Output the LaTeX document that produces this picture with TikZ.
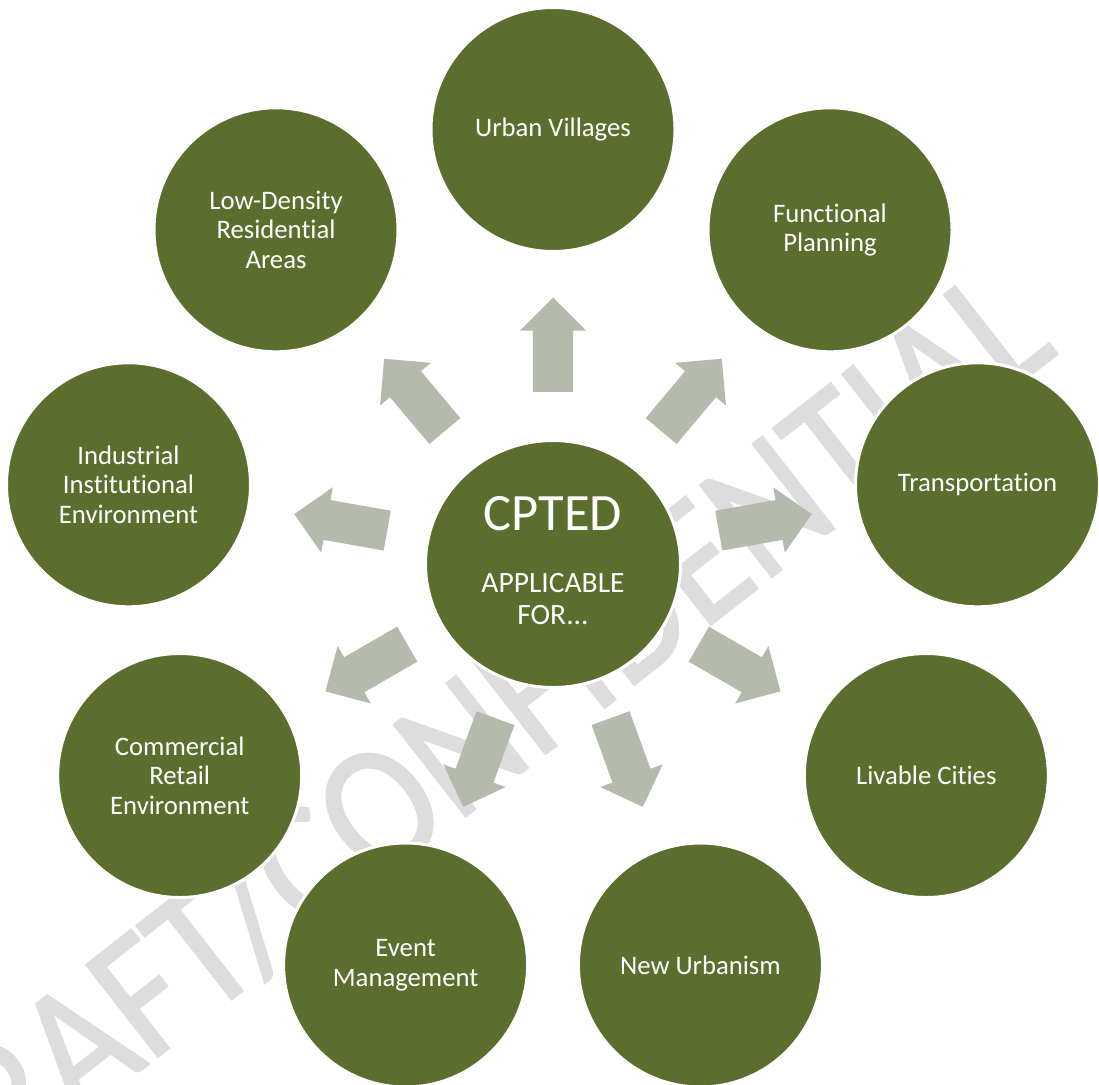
\documentclass[tikz,border=0pt]{standalone}
\usepackage{fontspec}
\setmainfont{Carlito}[Ligatures=NoCommon]
\newfontfamily\wmfont{Carlito}[Ligatures=NoCommon, FakeBold=1.2]
\usetikzlibrary{shapes.geometric,shapes.arrows}
\definecolor{olivec}{RGB}{91,110,46}
\definecolor{arrowc}{RGB}{181,187,172}
\definecolor{wmc}{RGB}{221,221,221}
\begin{document}
\begin{tikzpicture}[x=1pt,y=-1pt,
  topic/.style={circle, fill=olivec, draw=white, line width=3pt,
    minimum size=244pt, inner sep=0pt, text=white, align=center,
    font=\fontsize{26.7}{29.5}\selectfont},
  hub/.style={ellipse, fill=olivec, draw=white, line width=3pt,
    minimum width=255pt, minimum height=247pt, inner sep=0pt},
  hubtext/.style={text=white, inner sep=0pt, align=center},
  blockarrow/.style={single arrow, fill=arrowc, draw=none,
    minimum height=94.4pt, inner xsep=0pt, inner ysep=20pt,
    single arrow head extend=13pt, single arrow tip angle=90,
    outer sep=0pt, anchor=tail, sloped, allow upside down},
  watermark/.style={text=wmc, inner sep=0pt, anchor=base east,
    font=\wmfont\fontsize{158}{158}\selectfont}
  ]
\useasboundingbox (0,0) rectangle (1099,1084);
\fill[white] (0,0) rectangle (1099,1084);

% watermark
\begin{scope}
\clip (0,0) rectangle (1099,1084);
\node[watermark, rotate=38, yscale=1.15] (wm) at (1060,352) {DRAFT/CONFIDENTIAL};
\end{scope}

% layout centre
\coordinate (o) at (553,560);

% outer topics
\node[topic] (uv) at (553,129.5) {Urban Villages};
\node[topic] (fp) at (830,229.8) {Functional\\Planning};
\node[topic] (tr) at (977.5,484.8) {Transportation};
\node[topic] (lc) at (926.3,775.5) {Livable Cities};
\node[topic] (nu) at (700.4,965) {New Urbanism};
\node[topic] (em) at (405.6,965) {Event\\Management};
\node[topic] (cr) at (179.7,775.5) {Commercial\\Retail\\Environment};
\node[topic] (ii) at (128.5,484.8) {Industrial\\Institutional\\Environment};
\node[topic] (ld) at (276,229.8) {Low-Density\\Residential\\Areas};

% block arrows from the hub to each topic
\foreach \t in {uv,fp,tr,lc,nu,em,cr,ii,ld}{
  \path (o) -- (\t.center) node[blockarrow, pos=0.3905] (a-\t) {};
}

% hub
\node[hub] (c) at (553,564) {};
\node[hubtext, anchor=base, font=\fontsize{52.5}{52.5}\selectfont] (t1) at (553,530) {CPTED};
\node[hubtext, font=\fontsize{29.5}{31.3}\selectfont] (t2) at (553,599) {APPLICABLE\\FOR...};
\end{tikzpicture}
\end{document}
